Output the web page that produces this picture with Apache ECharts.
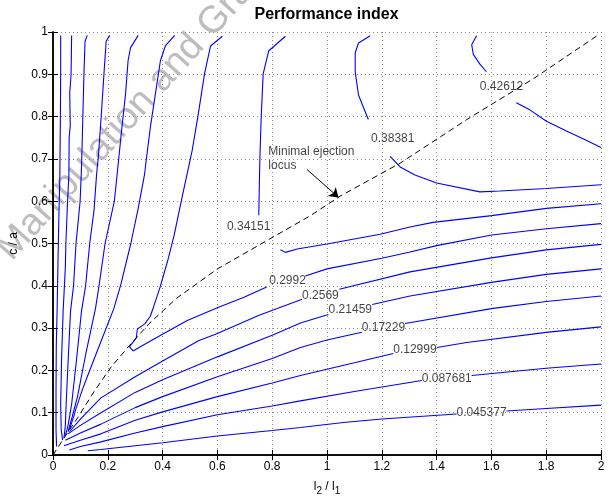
<!DOCTYPE html>
<html>
<head>
<meta charset="utf-8">
<script src="https://cdn.jsdelivr.net/npm/echarts@6/dist/echarts.min.js"></script>
<style>
  html, body { margin: 0; padding: 0; background: #fff; }
  #main { width: 613px; height: 501px; }
</style>
</head>
<body>
<div id="main"></div>
<script>
var FONT = 'Liberation Sans, Arial, Helvetica, sans-serif';

// axis ticks
var xTicks = [0, 0.2, 0.4, 0.6, 0.8, 1, 1.2, 1.4, 1.6, 1.8, 2];
var yTicks = [0, 0.1, 0.2, 0.3, 0.4, 0.5, 0.6, 0.7, 0.8, 0.9, 1];

// contour levels, as printed on the plot
var levels = ['0.045377', '0.087681', '0.12999', '0.17229', '0.21459', '0.2569', '0.2992', '0.34151', '0.38381', '0.42612'];

var up1 = [[0.028,0.992],[0.028,0.9],[0.027,0.8],[0.025,0.66],[0.021,0.55],[0.018,0.45],[0.015,0.34],[0.012,0.26],[0.011,0.15],[0.011,0.06],[0.013,0.02]];
var up2 = [[0.068,0.992],[0.066,0.9],[0.061,0.855],[0.063,0.778],[0.059,0.751],[0.058,0.663],[0.053,0.597],[0.047,0.5],[0.045,0.443],[0.037,0.34],[0.031,0.22],[0.028,0.12],[0.03,0.06],[0.035,0.035]];
var up3 = [[0.125,0.992],[0.117,0.978],[0.113,0.901],[0.109,0.801],[0.105,0.701],[0.103,0.663],[0.099,0.6],[0.084,0.5],[0.075,0.4],[0.064,0.34],[0.055,0.22],[0.048,0.12],[0.045,0.07],[0.04,0.04]];
var up4 = [[0.207,0.992],[0.194,0.978],[0.186,0.901],[0.176,0.801],[0.165,0.701],[0.159,0.663],[0.15,0.58],[0.134,0.5],[0.119,0.4],[0.104,0.34],[0.085,0.22],[0.068,0.12],[0.055,0.07],[0.045,0.045]];
var up5 = [[0.311,0.992],[0.283,0.963],[0.274,0.932],[0.265,0.855],[0.252,0.778],[0.24,0.701],[0.234,0.663],[0.224,0.6],[0.19,0.5],[0.168,0.4],[0.155,0.346],[0.12,0.24],[0.09,0.14],[0.07,0.09],[0.055,0.055]];
var up6 = [[0.444,0.992],[0.41,0.967],[0.392,0.932],[0.374,0.855],[0.356,0.778],[0.341,0.701],[0.334,0.663],[0.31,0.58],[0.284,0.5],[0.248,0.404],[0.222,0.346],[0.17,0.26],[0.125,0.185],[0.107,0.154],[0.083,0.108],[0.076,0.092],[0.06,0.06]];
var up7 = [[0.618,0.99],[0.575,0.967],[0.553,0.901],[0.529,0.801],[0.508,0.72],[0.472,0.612],[0.442,0.519],[0.418,0.458],[0.39,0.395],[0.367,0.35],[0.355,0.328],[0.335,0.31],[0.308,0.298],[0.304,0.277],[0.296,0.27],[0.279,0.256],[0.292,0.246]];
var up8 = [[0.848,0.99],[0.787,0.955],[0.767,0.901],[0.76,0.801],[0.755,0.701],[0.751,0.567]];
var up9 = [[1.158,0.991],[1.115,0.974],[1.103,0.951],[1.103,0.905],[1.115,0.851],[1.139,0.812],[1.151,0.793]];
var up10 = [[1.546,0.991],[1.528,0.97],[1.534,0.947],[1.558,0.924],[1.582,0.906]];

// lower branches (right of the locus), split where the level label sits
var low1a = [[0.127,0.01],[0.175,0.013],[0.3,0.022],[0.4,0.029],[0.6,0.045],[0.8,0.058],[0.903,0.065],[1.06,0.077],[1.2,0.085],[1.473,0.097]];
var low1b = [[1.655,0.104],[1.8,0.11],[2.0,0.118]];
var low2a = [[0.06,0.012],[0.1,0.02],[0.175,0.031],[0.3,0.052],[0.4,0.067],[0.6,0.095],[0.8,0.116],[0.903,0.128],[1.1,0.15],[1.346,0.176]];
var low2b = [[1.528,0.188],[1.8,0.205],[2.0,0.215]];
var low3a = [[0.04,0.022],[0.1,0.035],[0.175,0.05],[0.3,0.082],[0.4,0.102],[0.6,0.138],[0.8,0.17],[0.903,0.188],[1.1,0.218],[1.242,0.24]];
var low3b = [[1.401,0.254],[1.51,0.266],[1.8,0.29],[2.0,0.303]];
var low4a = [[0.045,0.035],[0.1,0.052],[0.175,0.073],[0.3,0.112],[0.4,0.138],[0.6,0.185],[0.8,0.228],[0.903,0.254],[1.0,0.272],[1.127,0.29]];
var low4b = [[1.285,0.311],[1.6,0.346],[1.8,0.363],[2.0,0.376]];
var low5a = [[0.055,0.05],[0.1,0.07],[0.175,0.1],[0.3,0.148],[0.4,0.178],[0.6,0.232],[0.8,0.283],[0.903,0.312],[1.005,0.332]];
var low5b = [[1.165,0.356],[1.303,0.376],[1.6,0.408],[1.8,0.427],[2.0,0.44]];
var low6a = [[0.06,0.055],[0.1,0.085],[0.175,0.135],[0.3,0.185],[0.4,0.222],[0.531,0.27],[0.6,0.287],[0.75,0.33],[0.909,0.368]];
var low6b = [[1.045,0.392],[1.303,0.433],[1.6,0.466],[1.8,0.485],[2.0,0.498]];
var low7a = [[0.292,0.246],[0.33,0.26],[0.393,0.283],[0.49,0.318],[0.6,0.348],[0.697,0.373],[0.78,0.397]];
var low7b = [[0.921,0.423],[1.0,0.44],[1.2,0.465],[1.303,0.48],[1.4,0.495],[1.601,0.52],[1.801,0.535],[2.0,0.547]];
var low8 = [[0.83,0.485],[0.848,0.479],[0.891,0.487],[1.0,0.499],[1.194,0.522],[1.303,0.539],[1.387,0.55],[1.601,0.566],[1.801,0.583],[2.0,0.594]];
var low9 = [[1.23,0.706],[1.267,0.681],[1.321,0.662],[1.4,0.643],[1.558,0.622],[1.631,0.624],[1.801,0.63],[2.0,0.639]];
var low10 = [[1.691,0.833],[1.74,0.816],[1.801,0.789],[1.874,0.766],[1.946,0.744],[2.0,0.727]];

// where each level label is printed (x, y)
var labelPos = [[1.564,0.1],[1.437,0.181],[1.321,0.249],[1.206,0.3],[1.085,0.344],[0.976,0.376],[0.856,0.412],[0.714,0.54],[1.24,0.747],[1.637,0.87]];

// minimal ejection locus (dashed)
var locus = [[0,0],[0.04,0.04],[0.09,0.088],[0.15,0.15],[0.212,0.208],[0.278,0.258],[0.35,0.31],[0.45,0.37],[0.6,0.44],[0.8,0.514],[0.94,0.566],[1.048,0.612],[1.267,0.69],[1.51,0.793],[1.752,0.889],[1.99,0.993]];
var arrowFrom = [0.927, 0.675];
var arrowTo = [1.042, 0.609];
var notePos = [0.786, 0.70];

var chart = echarts.init(document.getElementById('main'), null, { renderer: 'canvas' });

function contour(data) {
  return {
    type: 'line', data: data, symbol: 'none', silent: true, z: 3,
    lineStyle: { color: '#0000ff', width: 1.1 }
  };
}

var pieces = [up1, up2, up3, up4, up5, up6, up7, up8, up9, up10,
  low1a, low1b, low2a, low2b, low3a, low3b, low4a, low4b, low5a, low5b,
  low6a, low6b, low7a, low7b, low8, low9, low10];

var series = pieces.map(contour);

series.push({
  type: 'line', data: locus, symbol: 'none', silent: true, z: 4,
  lineStyle: { color: '#000', width: 1, type: [6, 4] },
  markLine: {
    silent: true, symbol: ['none', 'arrow'], symbolSize: 9,
    lineStyle: { color: '#000', width: 1, type: 'solid' },
    label: { show: false },
    data: [[{ coord: arrowFrom }, { coord: arrowTo }]]
  }
});

series.push({
  type: 'scatter', symbolSize: 0, silent: true, z: 5,
  data: labelPos.map(function (p, i) { return [p[0], p[1], levels[i]]; }),
  label: {
    show: true, position: 'inside', formatter: function (p) { return p.data[2]; },
    color: '#111', fontSize: 12, fontFamily: FONT
  }
});

series.push({
  type: 'scatter', symbolSize: 0, silent: true, z: 5,
  data: [notePos],
  label: {
    show: true, position: [0, 0], align: 'left', verticalAlign: 'middle',
    formatter: 'Minimal ejection\nlocus', lineHeight: 14,
    color: '#111', fontSize: 12, fontFamily: FONT
  }
});

var gridLine = { show: true, lineStyle: { color: '#8a8a8a', width: 1, type: [1, 3] } };

chart.setOption({
  animation: false,
  backgroundColor: '#fff',
  textStyle: { fontFamily: FONT },
  grid: { left: 52, right: 12, top: 32, bottom: 36, containLabel: false },
  graphic: [
    {
      type: 'text', x: 156, y: 86, rotation: 48 * Math.PI / 180, z: 0, silent: true,
      style: { text: 'Manipulation and Grasping', font: '38px ' + FONT, fill: '#bdbdbd', align: 'center', verticalAlign: 'middle' }
    },
    {
      type: 'text', x: 326.5, y: 15, z: 10, silent: true,
      style: { text: 'Performance index', font: 'bold 16px ' + FONT, fill: '#000', align: 'center', verticalAlign: 'middle' }
    }
  ],
  xAxis: [
    {
      type: 'value', min: xTicks[0], max: xTicks[xTicks.length - 1], interval: 0.2,
      axisLine: { show: true, lineStyle: { color: '#000', width: 1.5 } },
      axisTick: { show: true, inside: true, length: 5, lineStyle: { color: '#000' } },
      axisLabel: { color: '#000', fontSize: 12, margin: 6, fontFamily: FONT },
      splitLine: gridLine,
      name: '{a|l}{s|2}{a| / l}{s|1}', nameLocation: 'middle', nameGap: 22,
      nameTextStyle: {
        rich: {
          a: { fontSize: 12, color: '#000', fontFamily: FONT },
          s: { fontSize: 10, color: '#000', fontFamily: FONT, padding: [9, 0, 0, 0] }
        }
      }
    },
    {
      type: 'value', position: 'top', min: 0, max: 2, interval: 0.2,
      axisLine: { show: true, lineStyle: { color: '#000', width: 1.5 } },
      axisTick: { show: true, inside: true, length: 5, lineStyle: { color: '#000' } },
      axisLabel: { show: false }, splitLine: { show: false }
    }
  ],
  yAxis: [
    {
      type: 'value', min: yTicks[0], max: yTicks[yTicks.length - 1], interval: 0.1,
      axisLine: { show: true, lineStyle: { color: '#000', width: 1.5 } },
      axisTick: { show: true, inside: true, length: 5, lineStyle: { color: '#000' } },
      axisLabel: { color: '#000', fontSize: 12, margin: 5, fontFamily: FONT },
      splitLine: gridLine,
      name: 'c / a', nameLocation: 'middle', nameGap: 33, nameRotate: 90,
      nameTextStyle: { color: '#000', fontSize: 12, fontFamily: FONT }
    },
    {
      type: 'value', position: 'right', min: 0, max: 1, interval: 0.1,
      axisLine: { show: true, lineStyle: { color: '#000', width: 1.5 } },
      axisTick: { show: true, inside: true, length: 5, lineStyle: { color: '#000' } },
      axisLabel: { show: false }, splitLine: { show: false }
    }
  ],
  series: series
});
</script>
</body>
</html>
